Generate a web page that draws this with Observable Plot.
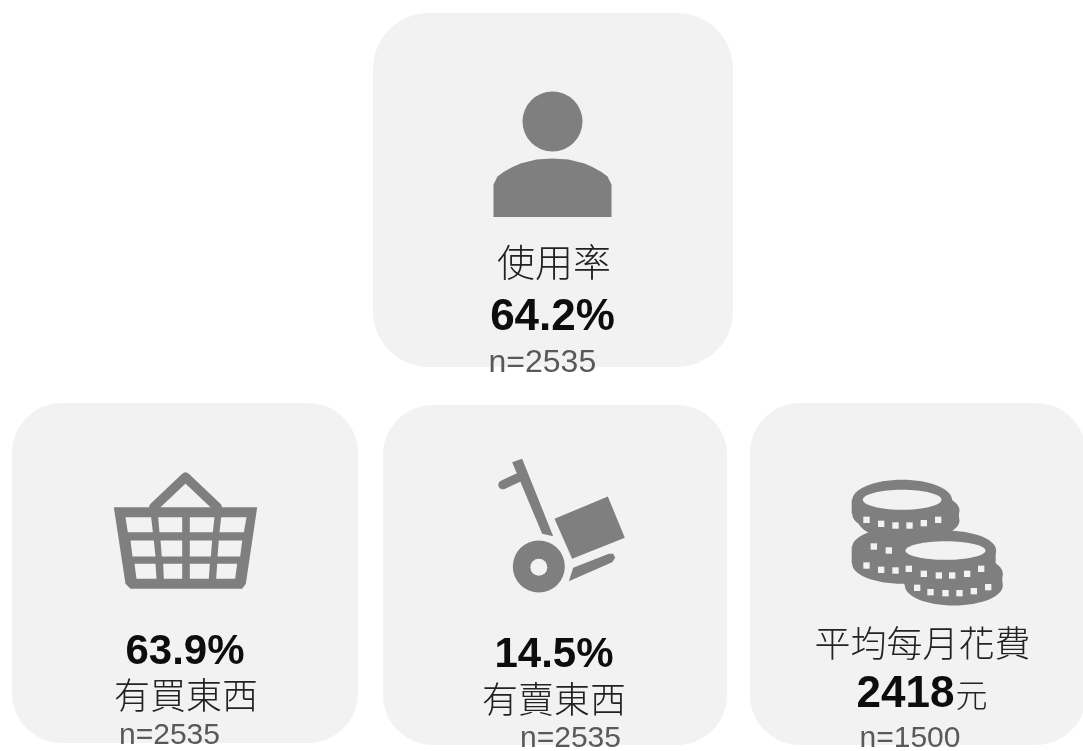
<!DOCTYPE html>
<html><head><meta charset="utf-8">
<style>html,body{margin:0;padding:0;background:#fff;overflow:hidden}svg{display:block}</style>
<script src="https://cdn.jsdelivr.net/npm/d3@7"></script>
<script src="https://cdn.jsdelivr.net/npm/@observablehq/plot@0.6"></script>
</head><body>
<script>
// ---- content
const labels = ["使用率", "有買東西", "有賣東西", "平均每月花費"];
const values = ["64.2%", "63.9%", "14.5%", "2418"];
const unit = "元";
const sampleSizes = ["n=2535", "n=2535", "n=2535", "n=1500"];

// ---- layout (page units, the x and y scales are 1:1 with the picture)
const cardX1 = [373, 12, 383, 750], cardX2 = [733, 358, 727, 1086];
const cardY1 = [13, 403, 405, 403], cardY2 = [367, 743, 745, 745];
const cardR = [56, 50, 50, 50];
const labelX = [553.5, 185.5, 553.5, 922], labelY = [275, 708, 712, 656];
const labelSize = [38, 36, 36, 36];
const valueX = [552, 184.5, 553.5, 954], valueY = [329, 663, 666, 706];
const valueSize = [44, 42, 42, 44];
const nX = [488, 118.5, 519.5, 859], nY = [371, 743, 746, 746];
const nSize = [32, 30, 30, 30];

const ink = "#7f7f7f", card = "#f2f2f2";
const sans = "'Liberation Sans', Arial, sans-serif";
const cjk = "'Noto Sans CJK TC', sans-serif";

const ell = k => ({draw(c, size) {
  const r = Math.sqrt(size / Math.PI), q = r * k, m = 0.5523;
  c.moveTo(-r, 0);
  c.bezierCurveTo(-r, -q * m, -r * m, -q, 0, -q);
  c.bezierCurveTo(r * m, -q, r, -q * m, r, 0);
  c.bezierCurveTo(r, q * m, r * m, q, 0, q);
  c.bezierCurveTo(-r * m, q, -r, q * m, -r, 0);
  c.closePath();
}});
const pts = (ox, oy, list) => list.map(([a, b]) => ({x: ox + a / 3, y: oy + b / 3}));
const blur = "blur(0.7px)", soft = "blur(0.3px)";
const poly = (p, fill, extra = {}) => Plot.line(p, {x: "x", y: "y", fill, stroke: "none", curve: "linear-closed", imageFilter: blur, ...extra});
const stroke = (p, w, col = ink, cap = "round") => Plot.line(p, {x: "x", y: "y", stroke: col, strokeWidth: w, strokeLinecap: cap, strokeLinejoin: "round", imageFilter: blur});
const oval = (x, y, rx, ry, fill) => Plot.dot([{x, y}], {x: "x", y: "y", r: rx, symbol: ell(ry / rx), fill, stroke: "none", imageFilter: blur});
const disc = (x, y, r, fill) => Plot.dot([{x, y}], {x: "x", y: "y", r, fill, stroke: "none", imageFilter: blur});

// ---- person
const person = [disc(552, 121, 30, ink),
  poly([[493,216.5],[493,184],[497,176],[503,171.5],[512,166.5],[520,163],[536,159],[552,158],[568,159],[584,163],[592,166.5],[601,171.5],[607,176],[611,184],[611,216.5]].map(([x,y])=>({x,y})), ink)];

// ---- basket (3x crop at 90,460)
const bk = l => pts(90, 460, l);
const basketCells = [
  [[105,170],[182,170],[187,215],[112,215]],[[203,170],[275,170],[275,215],[207,215]],[[298,170],[372,170],[367,215],[298,215]],[[392,170],[468,170],[460,215],[387,215]],
  [[120,240],[190,240],[195,288],[126,288]],[[210,240],[275,240],[275,288],[214,288]],[[298,240],[365,240],[361,288],[298,288]],[[385,240],[455,240],[449,288],[381,288]],
  [[132,310],[195,310],[198,355],[138,355]],[[218,310],[275,310],[275,355],[220,355]],[[298,310],[358,310],[355,355],[298,355]],[[380,310],[440,310],[434,355],[377,355]]
];
const basket = [
  stroke(bk([[190,140],[285,50],[380,140]]), 9.5),
  poly(bk([[70,140],[500,140],[466,370],[455,385],[120,385],[105,370]]), ink),
  ...basketCells.map(c => poly(bk(c), card))
];

// ---- hand truck (3x crop at 480,450)
const tr = l => pts(480, 450, l);
const truck = [
  poly(tr([[95,35],[125,25],[218,257],[185,250]]), ink),
  stroke(tr([[67,103],[112,82]]), 9),
  poly(tr([[222,205],[382,138],[433,262],[275,325]]), ink),
  poly(tr([[278,352],[385,310],[398,310],[404,322],[395,335],[265,392]]), ink),
  disc(480 + 175 / 3, 450 + 348 / 3, 26, ink),
  disc(480 + 175 / 3, 450 + 350 / 3, 8.5, card)
];

// ---- coins (3x crop at 840,470)
const cx = v => 840 + v / 3, cy = v => 470 + v / 3;
const coin = (x, top, bottom, rx, ry) => [
  oval(cx(x), cy(top), rx / 3, ry / 3, ink),
  oval(cx(x), cy(bottom), rx / 3, ry / 3, ink),
  Plot.rect([{x1: cx(x - rx), x2: cx(x + rx), y1: cy(top), y2: cy(bottom)}], {x1: "x1", x2: "x2", y1: "y1", y2: "y2", fill: ink, imageFilter: blur})
];
const holes = [[78,148],[122,160],[165,165],[207,165],[250,158],[293,148],[100,228],[145,240],[78,285],[122,298],[165,300],
  [205,295],[250,310],[295,315],[335,315],[380,310],[422,295],[230,352],[270,365],[315,368],[357,368],[400,362],[443,350]];
const coins = [
  ...coin(185, 230, 280, 150, 60),
  ...coin(205, 120, 150, 152, 60),
  ...coin(185, 90, 130, 150, 62),
  ...coin(340, 310, 345, 147, 60),
  ...coin(315, 240, 290, 152, 60),
  oval(cx(185), cy(88), 118 / 3, 30 / 3, card),
  oval(cx(315), cy(240), 120 / 3, 28 / 3, card),
  Plot.dot(holes.map(([a, b]) => ({x: cx(a), y: cy(b)})), {x: "x", y: "y", r: 3.6, symbol: "square", fill: card, imageFilter: blur})
];

// ---- texts
const idx = d3.range(4);
const texts = [
  ...idx.map(i => Plot.text([labels[i]], {x: [labelX[i]], y: [labelY[i]], text: d => d, fontFamily: cjk, fontWeight: 300, fontSize: labelSize[i], fill: "#222", lineAnchor: "bottom", textAnchor: "middle", imageFilter: soft})),
  ...idx.map(i => Plot.text([values[i]], {x: [valueX[i]], y: [valueY[i]], text: d => d, fontFamily: sans, fontWeight: 700, fontSize: valueSize[i], fill: "#0d0d0d", lineAnchor: "bottom", textAnchor: i === 3 ? "end" : "middle", imageFilter: soft})),
  Plot.text([unit], {x: [955], y: [valueY[3]], text: d => d, fontFamily: cjk, fontWeight: 300, fontSize: 32, fill: "#222", lineAnchor: "bottom", textAnchor: "start", imageFilter: soft}),
  ...idx.map(i => Plot.text([sampleSizes[i]], {x: [nX[i]], y: [nY[i]], text: d => d, fontFamily: sans, fontSize: nSize[i], fill: "#595959", lineAnchor: "bottom", textAnchor: "start", imageFilter: soft}))
];

const chart = Plot.plot({
  width: 1083, height: 751, margin: 0,
  style: {background: "#fff"},
  x: {domain: [0, 1083], range: [0, 1083], axis: null},
  y: {domain: [0, 751], range: [0, 751], axis: null},
  marks: [
    ...idx.map(i => Plot.rect([i], {x1: cardX1[i], x2: cardX2[i], y1: cardY1[i], y2: cardY2[i], rx: cardR[i], fill: card})),
    ...person, ...basket, ...truck, ...coins, ...texts
  ]
});
document.body.append(chart);
</script>
</body></html>
